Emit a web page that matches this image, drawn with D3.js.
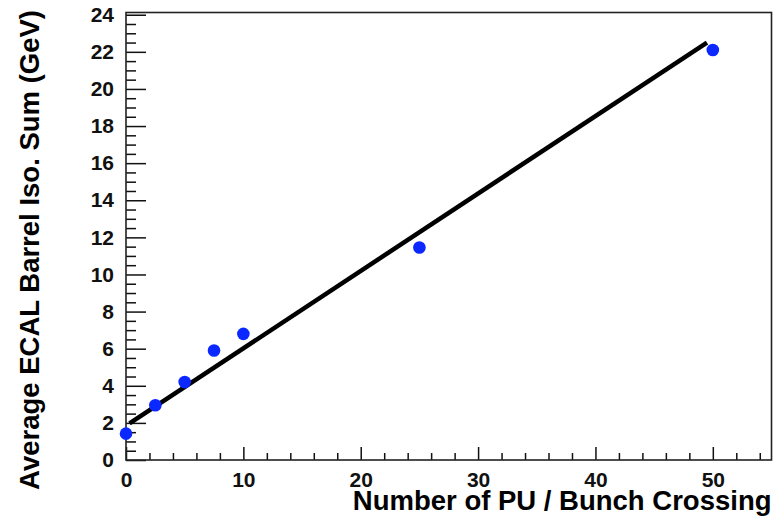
<html lang="en">
<head>
<meta charset="utf-8">
<title>ECAL iso vs PU</title>
<script src="https://d3js.org/d3.v7.min.js"></script>
<style>
  body { margin: 0; background: white; }
  text { font-family: "Liberation Sans", Arial, sans-serif; font-weight: bold; }
</style>
</head>
<body>
<div id="chart"></div>
<script>
// data
var puValues = [0, 2.5, 5, 7.5, 10, 25, 50];
var isoValues = [1.42, 2.95, 4.2, 5.9, 6.8, 11.45, 22.1];
// straight-line fit, end points
var fitX = [0.3, 49.5];
var fitY = [1.97, 22.5];
var xMajor = [0, 10, 20, 30, 40, 50];
var yMajor = [0, 2, 4, 6, 8, 10, 12, 14, 16, 18, 20, 22, 24];

var W = 774, H = 518;
var margin = {top: 12.5, right: 2.5, bottom: 58, left: 126};
var width = W - margin.left - margin.right,
    height = H - margin.top - margin.bottom;

var svg = d3.select("#chart").append("svg")
    .attr("width", W).attr("height", H)
  .append("g")
    .attr("transform", "translate(" + margin.left + "," + margin.top + ")");

var x = d3.scaleLinear().domain([0, 55]).range([0, width]);
var y = d3.scaleLinear().domain([0, 24.12]).range([height, 0]);

var xMinor = d3.range(0, 55, 2).filter(function(d) { return d % 10 != 0; });
var yMinor = d3.range(0, 24.1, 0.5).filter(function(d) { return d % 2 != 0; });

// minor ticks
svg.append("g")
    .attr("transform", "translate(0," + height + ")")
    .call(d3.axisBottom(x).tickValues(xMinor).tickSize(-7).tickSizeOuter(0).tickFormat(""));
svg.append("g")
    .call(d3.axisLeft(y).tickValues(yMinor).tickSize(-10).tickSizeOuter(0).tickFormat(""));

// major ticks with labels
var xAxis = svg.append("g")
    .attr("transform", "translate(0," + height + ")")
    .call(d3.axisBottom(x).tickValues(xMajor).tickSize(-13).tickSizeOuter(0).tickPadding(12));
var yAxis = svg.append("g")
    .call(d3.axisLeft(y).tickValues(yMajor).tickSize(-20).tickSizeOuter(0).tickPadding(12));

svg.selectAll(".tick line").attr("stroke", "#111").attr("stroke-width", 1.5);
svg.selectAll(".domain").remove();
svg.selectAll(".tick text")
    .style("font-size", "21px")
    .style("font-family", "'Liberation Sans', Arial, sans-serif")
    .style("font-weight", "bold")
    .attr("fill", "#111");

// frame
svg.append("rect")
    .attr("x", 0).attr("y", 0)
    .attr("width", width).attr("height", height)
    .attr("fill", "none")
    .attr("stroke", "#222")
    .attr("stroke-width", 1.6);

// fit line
svg.append("path")
    .datum(d3.zip(fitX, fitY))
    .attr("d", d3.line()
      .x(function(d) { return x(d[0]); })
      .y(function(d) { return y(d[1]); }))
    .attr("stroke", "black")
    .attr("stroke-width", 4.5)
    .attr("fill", "none");

// data points
svg.selectAll(".pt")
    .data(d3.zip(puValues, isoValues))
    .enter()
    .append("circle")
      .attr("class", "pt")
      .attr("cx", function(d) { return x(d[0]); })
      .attr("cy", function(d) { return y(d[1]); })
      .attr("r", 6.3)
      .attr("fill", "#0a28ff");

// axis titles
svg.append("text")
    .attr("x", width)
    .attr("y", height + 50)
    .attr("text-anchor", "end")
    .style("font-size", "27.5px")
    .text("Number of PU / Bunch Crossing");

svg.append("text")
    .attr("transform", "rotate(-90)")
    .attr("x", 2.5)
    .attr("y", 39 - margin.left)
    .attr("text-anchor", "end")
    .style("font-size", "27.5px")
    .text("Average ECAL Barrel Iso. Sum (GeV)");
</script>
</body>
</html>
